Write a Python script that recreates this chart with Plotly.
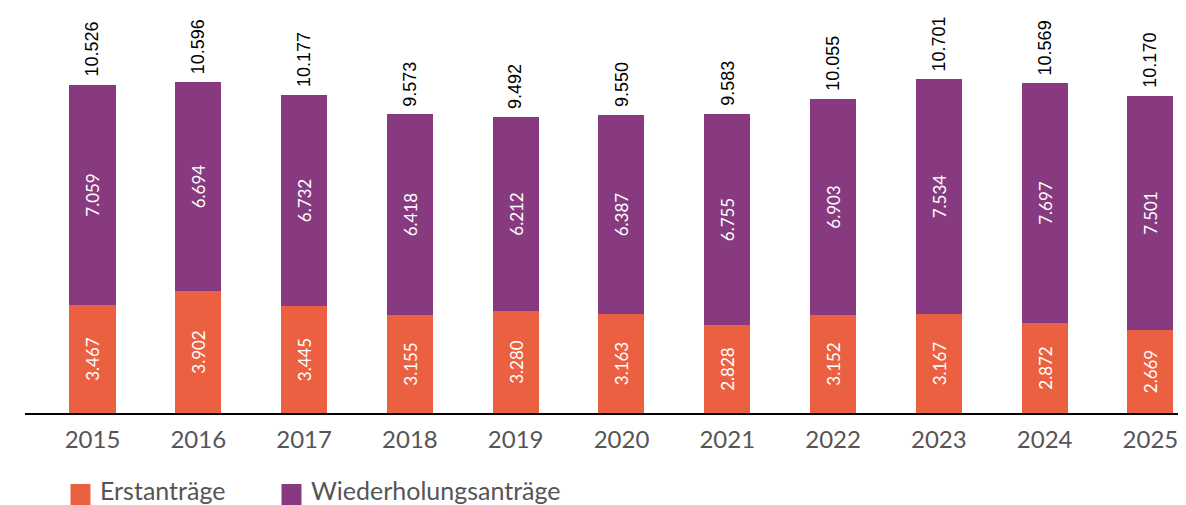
import plotly.graph_objects as go

years = ["2015", "2016", "2017", "2018", "2019", "2020", "2021", "2022", "2023", "2024", "2025"]
erst = [3467, 3902, 3445, 3155, 3280, 3163, 2828, 3152, 3167, 2872, 2669]
wieder = [7059, 6694, 6732, 6418, 6212, 6387, 6755, 6903, 7534, 7697, 7501]
totals = [10526, 10596, 10177, 9573, 9492, 9550, 9583, 10055, 10701, 10569, 10170]

ORANGE = "#EA6041"
PURPLE = "#873A80"
GREY = "#555555"

def de(n):
    return f"{n:,}".replace(",", ".")

x = list(range(len(years)))

# page body has an 8px margin, so the figure is drawn from (8, 8)
OFF = 8
W, H = 1186 - OFF, 505 - OFF
L = 25 - OFF          # plot area left edge (figure px)
BASE = 413 - OFF      # baseline (figure px)
PW = W - L            # plot width
PH = BASE             # plot height

fig = go.Figure()
fig.add_trace(go.Bar(
    x=x, y=erst, name="Erstanträge", marker_color=ORANGE, width=0.435,
    text=[de(v) for v in erst], textposition="inside", insidetextanchor="middle",
    textangle=-90, textfont=dict(family="Lato", size=17, color="white"),
    showlegend=False, marker_line_width=0,
))
fig.add_trace(go.Bar(
    x=x, y=wieder, name="Wiederholungsanträge", marker_color=PURPLE, width=0.435,
    text=[de(v) for v in wieder], textposition="inside", insidetextanchor="middle",
    textangle=-90, textfont=dict(family="Lato", size=17, color="white"),
    showlegend=False, marker_line_width=0,
))

annotations = []
for xi, t in zip(x, totals):
    annotations.append(dict(
        x=xi, y=t, xref="x", yref="y", text=de(t), showarrow=False,
        textangle=-90, xanchor="center", yanchor="bottom", yshift=6,
        font=dict(family="Liberation Sans, Arial", size=18, color="black"),
    ))

# custom legend (page px positions)
legend_items = [("Erstanträge", ORANGE, 70.5), ("Wiederholungsanträge", PURPLE, 281.5)]
shapes = []
def px_x(page_x):
    return (page_x - OFF - L) / PW
def px_y(page_y):
    return -(page_y - OFF - BASE) / PH
for label, col, x0 in legend_items:
    shapes.append(dict(
        type="rect", xref="paper", yref="paper",
        x0=px_x(x0), x1=px_x(x0 + 20),
        y0=px_y(484), y1=px_y(506),
        fillcolor=col, line_width=0,
    ))
    annotations.append(dict(
        x=px_x(x0 + 27), y=px_y(490), xref="paper", yref="paper",
        text=label, showarrow=False, xanchor="left", yanchor="middle",
        font=dict(family="Lato", size=25, color=GREY),
    ))

fig.update_layout(
    barmode="stack",
    width=W, height=H, autosize=False,
    margin=dict(l=L, r=0, t=0, b=H - BASE, pad=0),
    plot_bgcolor="white", paper_bgcolor="white",
    showlegend=False,
    annotations=annotations,
    shapes=shapes,
    bargap=0,
)
fig.update_xaxes(
    tickmode="array", tickvals=x, ticktext=years,
    range=[-0.638, 10.336],
    showline=True, linecolor="black", linewidth=1.5,
    showgrid=False, zeroline=False, ticks="",
    tickfont=dict(family="Lato", size=24, color=GREY),
    ticklabelstandoff=4,
)
fig.update_yaxes(
    range=[0, PH / 0.0312], visible=False, showgrid=False, zeroline=False,
)

fig.write_html("out.html")
